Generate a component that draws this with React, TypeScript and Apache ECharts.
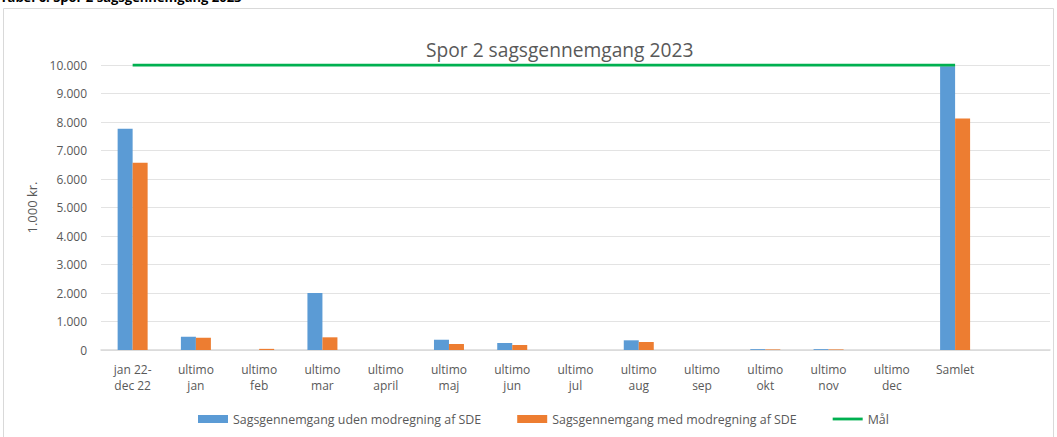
import React, { useEffect, useRef } from "react";
import * as echarts from "echarts";

const categories = [
  "jan 22-\ndec 22", "ultimo\njan", "ultimo\nfeb", "ultimo\nmar", "ultimo\napril", "ultimo\nmaj",
  "ultimo\njun", "ultimo\njul", "ultimo\naug", "ultimo\nsep", "ultimo\nokt", "ultimo\nnov",
  "ultimo\ndec", "Samlet", "",
];
const udenSDE = [7760, 465, 0, 2000, 0, 360, 245, 0, 340, 0, 30, 30, 0, 9960, null];
const medSDE = [6570, 430, 40, 445, 0, 210, 175, 0, 280, 0, 20, 20, 0, 8120, null];
const maal = [10000, 10000, 10000, 10000, 10000, 10000, 10000, 10000, 10000, 10000, 10000, 10000, 10000, 10000, null];

const seriesNames = [
  "Sagsgennemgang uden modregning af SDE",
  "Sagsgennemgang med modregning af SDE",
  "Mål",
];

const FONT = "'Open Sans', 'Noto Sans', sans-serif";

export default function App() {
  const ref = useRef<HTMLDivElement>(null);
  useEffect(() => {
    document.body.style.margin = "0";
    const chart = echarts.init(ref.current!, null, { renderer: "svg" });
    chart.setOption({
      animation: false,
      textStyle: { fontFamily: FONT },
      title: {
        text: "Spor 2 sagsgennemgang 2023",
        left: 421,
        top: 35,
        textStyle: { fontSize: 19.2, fontWeight: "normal", color: "#595959", fontFamily: FONT },
      },
      graphic: [
        {
          type: "rect",
          shape: { x: 3.5, y: 8.5, width: 1050, height: 440 },
          style: { fill: "none", stroke: "#d9d9d9", lineWidth: 1 },
          silent: true,
        },
        {
          type: "text",
          left: 0,
          top: -10,
          style: {
            text: "Tabel 6: Spor 2 sagsgennemgang 2023",
            font: "bold 13px 'Open Sans', sans-serif",
            fill: "#000",
          },
        },
      ],
      grid: { left: 101, right: 7, top: 65, bottom: 87 },
      legend: {
        top: 408,
        left: 193,
        itemGap: 36,
        itemWidth: 30,
        itemHeight: 8,
        data: [
          { name: seriesNames[0], icon: "rect" },
          { name: seriesNames[1], icon: "rect" },
          { name: seriesNames[2], icon: "path://M0,0 L32,0 L32,3 L0,3 Z" },
        ],
        textStyle: { color: "#595959", fontSize: 12.4, fontFamily: FONT },
      },
      xAxis: {
        type: "category",
        data: categories,
        axisLine: { lineStyle: { color: "#d9d9d9", width: 1.5 } },
        axisTick: { show: false },
        axisLabel: { color: "#595959", fontSize: 12, lineHeight: 16, margin: 11, interval: 0, fontFamily: FONT },
      },
      yAxis: {
        type: "value",
        min: 0,
        max: 10000,
        interval: 1000,
        name: "1.000 kr.",
        nameLocation: "middle",
        nameGap: 60,
        nameTextStyle: { color: "#595959", fontSize: 13, fontFamily: FONT },
        axisLabel: {
          color: "#595959",
          fontSize: 12,
          margin: 14,
          fontFamily: FONT,
          formatter: (v: number) => (v === 0 ? "0" : v.toLocaleString("de-DE")),
        },
        splitLine: { lineStyle: { color: "#e3e3e3", width: 1 } },
        axisLine: { show: false },
        axisTick: { show: false },
      },
      series: [
        {
          name: seriesNames[0],
          type: "bar",
          data: udenSDE,
          itemStyle: { color: "#5B9BD5" },
          barWidth: 15,
          barGap: "0%",
        },
        {
          name: seriesNames[1],
          type: "bar",
          data: medSDE,
          itemStyle: { color: "#ED7D31" },
          barWidth: 15,
          barGap: "0%",
        },
        {
          name: seriesNames[2],
          type: "line",
          data: maal,
          symbol: "none",
          lineStyle: { color: "#00B050", width: 3 },
          itemStyle: { color: "#00B050" },
          z: 5,
        },
      ],
    });
    return () => chart.dispose();
  }, []);
  return <div ref={ref} style={{ width: 1057, height: 437 }} />;
}
